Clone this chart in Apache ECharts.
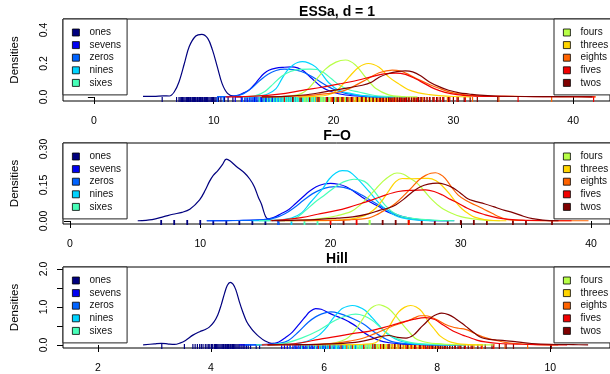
<!DOCTYPE html>
<html>
<head>
<meta charset="utf-8">
<script src="https://cdn.jsdelivr.net/npm/echarts@6/dist/echarts.min.js"></script>
<style>
  html, body { margin: 0; padding: 0; background: #fff; }
  #chart { width: 610px; height: 374px; }
</style>
</head>
<body>
<div id="chart"></div>
<script>
// Digit classes and their jet-style colours
const digitNames = ['ones', 'sevens', 'zeros', 'nines', 'sixes', 'fours', 'threes', 'eights', 'fives', 'twos'];
const digitColors = ['#00007F', '#0000F1', '#0063FF', '#00D4FF', '#47FFB8', '#B8FF47', '#FFD400', '#FF6300', '#F10000', '#7F0000'];
const panelTitles = ['ESSa, d = 1', 'F\u2212O', 'Hill'];

// Axis ticks and labels
const essaXTicks = [0, 10, 20, 30, 40];
const essaYTicks = [0, 0.1, 0.2, 0.3, 0.4];
const essaYLabels = [0, 0.2, 0.4];
const foXTicks = [0, 10, 20, 30, 40];
const foYTicks = [0, 0.05, 0.1, 0.15, 0.2, 0.25, 0.3];
const foYLabels = [0, 0.15, 0.3];
const hillXTicks = [2, 4, 6, 8, 10];
const hillYTicks = [0, 0.5, 1, 1.5, 2];
const hillYLabels = [0, 1, 2];

// ---- ESSa, d = 1 : kernel density estimates [value, density] ----
const essaOnes = [[4.1,0.004],[5.0,0.004],[5.8,0.007],[6.3,0.006],[6.7,0.03],[7.1,0.09],[7.55,0.2],[7.95,0.3],[8.5,0.364],[9.0,0.374],[9.5,0.35],[9.9,0.28],[10.3,0.18],[10.7,0.08],[11.15,0.022],[11.7,0.004],[12.3,0.001]];
const essaSevens = [[10.3,0.002],[11.5,0.004],[12.1,0.012],[12.6,0.028],[13.0,0.045],[13.4,0.075],[13.8,0.11],[14.2,0.14],[14.6,0.16],[15.2,0.172],[15.8,0.177],[16.5,0.18],[17.0,0.174],[17.5,0.155],[18.2,0.11],[19.0,0.06],[19.9,0.03],[21.0,0.012],[22.4,0.004],[24.0,0.001]];
const essaZeros = [[10.3,0.002],[11.8,0.006],[12.5,0.02],[13.2,0.055],[13.8,0.095],[14.5,0.135],[15.2,0.158],[15.9,0.166],[16.6,0.163],[17.3,0.152],[18.0,0.13],[18.7,0.1],[19.4,0.068],[20.2,0.04],[21.0,0.022],[22.2,0.008],[23.6,0.002],[25.0,0.001]];
const essaNines = [[12.5,0.001],[13.5,0.004],[14.5,0.018],[15.2,0.05],[15.7,0.11],[16.1,0.155],[16.6,0.19],[17.0,0.206],[17.4,0.211],[17.9,0.204],[18.5,0.18],[19.0,0.14],[19.6,0.085],[20.4,0.042],[21.5,0.02],[22.9,0.004],[24.5,0.001]];
const essaSixes = [[12.5,0.001],[13.5,0.008],[14.3,0.035],[15.0,0.08],[15.7,0.125],[16.4,0.152],[17.2,0.165],[18.0,0.167],[18.6,0.164],[19.2,0.145],[19.8,0.11],[20.6,0.065],[21.4,0.04],[22.1,0.03],[23.0,0.015],[23.8,0.006],[25.0,0.002],[26.0,0.001]];
const essaFours = [[15.0,0.001],[16.3,0.005],[17.3,0.02],[17.9,0.05],[18.5,0.1],[19.3,0.165],[20.2,0.208],[21.0,0.221],[21.8,0.193],[22.7,0.115],[23.5,0.052],[24.6,0.013],[25.7,0.003],[27.0,0.001]];
const essaThrees = [[17.0,0.001],[18.5,0.004],[19.5,0.012],[20.3,0.04],[21.3,0.12],[22.1,0.178],[22.9,0.2],[23.8,0.178],[24.6,0.12],[25.4,0.08],[26.2,0.045],[27.1,0.025],[28.0,0.014],[28.8,0.008],[30.0,0.003],[31.5,0.001]];
const essaEights = [[14.0,0.001],[16.0,0.004],[18.0,0.01],[19.5,0.02],[20.5,0.03],[21.3,0.05],[22.1,0.08],[22.9,0.11],[23.8,0.145],[24.9,0.161],[25.6,0.155],[26.4,0.13],[27.1,0.104],[28.0,0.075],[28.8,0.052],[29.9,0.026],[31.0,0.013],[32.4,0.006],[34.0,0.004],[36.0,0.003],[38.0,0.003],[40.0,0.002],[41.9,0.001]];
const essaFives = [[11.0,0.001],[13.0,0.004],[14.5,0.01],[16.0,0.022],[17.4,0.04],[19.0,0.058],[20.5,0.078],[22.0,0.1],[23.2,0.122],[24.2,0.138],[25.2,0.143],[26.0,0.135],[26.8,0.11],[27.6,0.08],[28.4,0.05],[29.3,0.028],[30.3,0.014],[31.5,0.007],[33.0,0.004],[35.5,0.003],[38.0,0.002],[40.0,0.002],[41.8,0.001]];
const essaTwos = [[14.0,0.001],[16.0,0.004],[17.5,0.012],[18.8,0.025],[20.0,0.04],[21.2,0.055],[22.4,0.07],[23.2,0.09],[23.8,0.118],[24.6,0.14],[25.3,0.152],[26.0,0.156],[26.6,0.15],[27.3,0.125],[28.0,0.09],[28.8,0.062],[29.6,0.04],[30.5,0.025],[31.3,0.018],[32.2,0.011],[33.5,0.006],[36.0,0.003],[39.0,0.002],[41.6,0.001]];

// ---- ESSa rug (observed values) ----
const essaOnesRug = [5.7,6.9,7.1,7.2,7.3,7.4,7.5,7.6,7.7,7.75,7.8,7.9,8.0,8.05,8.1,8.2,8.25,8.3,8.4,8.45,8.5,8.6,8.65,8.7,8.8,8.85,8.9,9.0,9.05,9.1,9.2,9.25,9.3,9.4,9.45,9.5,9.6,9.7,9.8,9.9,10.0,10.1,10.2,10.4,10.6,10.9,11.2,11.6];
const essaSevensRug = [11.8,12.3,12.6,12.8,13.0,13.2,13.4,13.6,13.8,14.0,14.15,14.3,14.45,14.6,14.75,14.9,15.05,15.2,15.35,15.5,15.65,15.8,15.95,16.1,16.25,16.4,16.55,16.7,16.85,17.0,17.15,17.3,17.5,17.7,17.9,18.1,18.35,18.6,18.9,19.2,19.6,20.1];
const essaZerosRug = [10.3,10.8,12.4,12.7,12.95,13.1,13.3,13.5,13.7,13.9,14.1,14.25,14.4,14.55,14.7,14.85,15.0,15.15,15.3,15.45,15.6,15.75,15.9,16.05,16.2,16.35,16.5,16.65,16.8,16.95,17.1,17.3,17.5,17.75,18.0,18.25,18.5,18.8,19.1,19.5,20.0,20.4,21.3];
const essaNinesRug = [14.7,15.1,15.3,15.45,15.6,15.75,15.9,16.05,16.2,16.35,16.5,16.6,16.75,16.9,17.0,17.1,17.2,17.3,17.4,17.5,17.6,17.7,17.8,17.9,18.0,18.15,18.3,18.45,18.6,18.75,18.9,19.1,19.3,19.55,19.8,20.1,20.5];
const essaSixesRug = [13.8,14.2,14.5,14.75,15.0,15.25,15.5,15.7,15.85,16.0,16.15,16.3,16.45,16.6,16.75,16.9,17.05,17.2,17.35,17.5,17.65,17.8,17.95,18.1,18.25,18.4,18.55,18.7,18.85,19.0,19.2,19.4,19.65,19.9,20.2,20.6,21.0,21.4,22.3];
const essaFoursRug = [17.6,17.8,18.1,18.4,18.6,18.8,18.95,19.1,19.25,19.4,19.55,19.7,19.85,20.0,20.15,20.3,20.45,20.6,20.75,20.9,21.05,21.2,21.35,21.5,21.65,21.8,21.95,22.1,22.3,22.5,22.7,22.9,23.15,23.4,23.7,24.0,24.6];
const essaThreesRug = [19.8,20.2,20.55,20.9,21.15,21.4,21.6,21.8,22.0,22.15,22.3,22.45,22.6,22.75,22.9,23.05,23.2,23.35,23.5,23.65,23.8,23.95,24.1,24.3,24.5,24.7,24.95,25.2,25.5,25.9,26.3,26.7,27.4];
const essaEightsRug = [18.6,19.8,20.7,21.4,21.9,22.3,22.7,23.0,23.3,23.55,23.8,24.0,24.2,24.4,24.6,24.75,24.9,25.05,25.2,25.35,25.5,25.7,25.9,26.1,26.3,26.55,26.8,27.1,27.4,27.8,28.3,28.9,29.5,30.4,31.6,33.8,38.2];
const essaFivesRug = [15.9,16.6,17.2,18.0,18.8,19.4,19.9,20.4,20.8,21.2,21.6,22.0,22.4,22.7,23.0,23.3,23.6,23.85,24.1,24.4,24.7,24.9,25.1,25.35,25.6,25.8,26.0,26.25,26.5,26.75,27.0,27.3,27.6,28.0,28.4,28.7,29.1,29.7,30.3,31.0,35.4,41.7];
const essaTwosRug = [16.6,17.3,18.0,18.7,19.5,20.0,20.3,20.7,21.1,21.5,22.0,22.35,22.7,23.0,23.3,23.6,23.9,24.15,24.4,24.6,24.8,25.05,25.3,25.5,25.7,25.9,26.1,26.3,26.5,26.7,26.9,27.1,27.3,27.55,27.8,28.05,28.3,28.6,28.9,29.2,29.6,30.0,30.4,30.9,31.4,32.0,33.7];

// ---- F-O : kernel density estimates ----
const foOnes = [[5.2,0.001],[6.3,0.006],[7.2,0.018],[7.9,0.028],[8.6,0.036],[9.2,0.049],[9.95,0.088],[10.4,0.13],[10.7,0.164],[11.0,0.19],[11.35,0.21],[11.7,0.235],[12.0,0.258],[12.3,0.25],[12.75,0.228],[13.4,0.2],[13.8,0.175],[14.15,0.143],[14.45,0.1],[14.7,0.07],[14.9,0.035],[15.1,0.012],[15.6,0.002],[16.5,0.001]];
const foSevens = [[10.5,0.001],[12.5,0.002],[14.2,0.004],[15.0,0.007],[15.6,0.014],[16.2,0.03],[16.8,0.048],[17.3,0.072],[17.85,0.099],[18.4,0.125],[18.9,0.143],[19.5,0.154],[20.0,0.157],[20.6,0.153],[21.2,0.143],[21.8,0.123],[22.4,0.1],[23.0,0.08],[23.7,0.06],[24.3,0.04],[25.0,0.025],[25.6,0.015],[26.3,0.008],[27.5,0.003],[29.0,0.001]];
const foZeros = [[10.5,0.001],[13.0,0.002],[15.0,0.006],[15.8,0.014],[16.5,0.03],[17.2,0.055],[17.9,0.085],[18.6,0.113],[19.3,0.132],[19.9,0.141],[20.4,0.143],[21.0,0.14],[21.7,0.128],[22.4,0.108],[23.1,0.085],[23.8,0.063],[24.5,0.042],[25.2,0.025],[25.9,0.014],[26.8,0.006],[28.0,0.002],[29.5,0.001]];
const foNines = [[14.0,0.001],[16.0,0.004],[17.0,0.012],[17.8,0.035],[18.4,0.074],[18.9,0.105],[19.4,0.135],[19.9,0.175],[20.4,0.2],[20.9,0.21],[21.3,0.209],[21.8,0.19],[22.4,0.157],[23.0,0.12],[23.5,0.088],[24.0,0.06],[24.5,0.039],[25.0,0.022],[25.5,0.013],[26.5,0.005],[28.0,0.001]];
const foSixes = [[14.5,0.001],[16.0,0.004],[17.3,0.012],[18.0,0.04],[18.8,0.078],[19.6,0.11],[20.3,0.14],[21.0,0.163],[21.8,0.174],[22.6,0.165],[23.2,0.135],[23.7,0.1],[24.2,0.065],[24.7,0.04],[25.3,0.022],[26.0,0.013],[27.0,0.007],[28.2,0.003],[29.5,0.001]];
const foFours = [[16.0,0.001],[18.0,0.004],[19.5,0.012],[20.5,0.022],[21.6,0.04],[22.3,0.068],[22.9,0.1],[23.5,0.135],[24.0,0.164],[24.6,0.19],[25.1,0.2],[25.6,0.195],[26.1,0.178],[26.6,0.16],[27.2,0.125],[27.8,0.088],[28.5,0.055],[29.3,0.032],[30.0,0.018],[30.8,0.01],[32.0,0.003],[33.0,0.001]];
const foThrees = [[18.0,0.001],[20.0,0.003],[21.5,0.008],[22.4,0.018],[22.9,0.03],[23.5,0.055],[24.0,0.088],[24.5,0.128],[25.0,0.164],[25.5,0.177],[26.2,0.176],[26.9,0.177],[27.5,0.178],[28.1,0.168],[28.6,0.145],[29.1,0.115],[29.6,0.08],[30.1,0.05],[30.6,0.03],[31.1,0.015],[31.8,0.006],[32.5,0.002],[33.5,0.001]];
const foEights = [[16.0,0.001],[19.0,0.002],[21.5,0.005],[22.9,0.012],[23.5,0.025],[24.0,0.04],[24.5,0.055],[25.0,0.074],[25.7,0.11],[26.3,0.143],[26.8,0.172],[27.3,0.19],[27.7,0.199],[28.05,0.201],[28.4,0.195],[28.8,0.178],[29.3,0.14],[29.8,0.108],[30.4,0.085],[31.1,0.067],[31.8,0.048],[32.4,0.032],[33.0,0.016],[33.6,0.006],[35.0,0.002],[37.0,0.001],[39.8,0.001]];
const foFives = [[15.4,0.001],[16.5,0.006],[17.85,0.015],[19.0,0.028],[20.4,0.043],[21.4,0.057],[22.4,0.074],[23.3,0.09],[24.2,0.108],[25.2,0.123],[26.2,0.128],[27.3,0.13],[28.0,0.122],[28.6,0.108],[29.2,0.09],[29.8,0.074],[30.5,0.053],[31.1,0.039],[31.8,0.027],[32.4,0.018],[33.2,0.01],[34.2,0.005],[36.0,0.002],[38.5,0.001]];
const foTwos = [[15.5,0.001],[17.0,0.003],[19.1,0.007],[20.5,0.012],[21.7,0.017],[22.9,0.03],[23.8,0.045],[24.5,0.055],[25.0,0.067],[25.6,0.09],[26.3,0.122],[26.9,0.143],[27.5,0.154],[28.2,0.158],[28.8,0.152],[29.4,0.138],[30.0,0.115],[30.5,0.094],[31.1,0.082],[31.8,0.072],[32.5,0.06],[33.2,0.047],[34.0,0.035],[34.8,0.02],[35.5,0.01],[36.3,0.004],[37.5,0.001]];

// ---- F-O rug (integer-valued scores) ----
const foOnesRug = [7, 8, 9, 10, 11, 12, 13, 14, 15];
const foSevensRug = [16];
const foZerosRug = [16];
const foNinesRug = [17];
const foSixesRug = [18, 19, 23];
const foFoursRug = [23];
const foThreesRug = [26];
const foEightsRug = [26];
const foFivesRug = [20, 22, 26];
const foTwosRug = [21, 24, 25, 27, 28, 29, 30, 31, 32, 34, 35, 37];

// ---- Hill : kernel density estimates ----
const hillOnes = [[2.8,0.005],[3.0,0.03],[3.12,0.045],[3.25,0.025],[3.35,0.015],[3.45,0.05],[3.55,0.12],[3.68,0.26],[3.8,0.35],[3.9,0.41],[3.97,0.47],[4.05,0.6],[4.12,0.79],[4.18,1.05],[4.24,1.36],[4.29,1.57],[4.34,1.65],[4.39,1.6],[4.44,1.45],[4.5,1.15],[4.56,0.88],[4.63,0.62],[4.71,0.44],[4.78,0.32],[4.85,0.22],[4.95,0.11],[5.03,0.06],[5.12,0.04],[5.25,0.03],[5.4,0.005]];
const hillSevens = [[4.5,0.005],[4.9,0.01],[5.1,0.04],[5.2,0.08],[5.32,0.2],[5.44,0.34],[5.56,0.55],[5.66,0.73],[5.75,0.88],[5.85,0.96],[5.95,0.94],[6.09,0.84],[6.2,0.77],[6.32,0.7],[6.44,0.61],[6.56,0.5],[6.67,0.36],[6.8,0.24],[6.97,0.12],[7.15,0.06],[7.35,0.03],[7.6,0.015],[8.0,0.005],[8.5,0.002]];
const hillZeros = [[4.6,0.004],[5.0,0.01],[5.2,0.04],[5.37,0.12],[5.55,0.35],[5.72,0.6],[5.85,0.74],[5.96,0.82],[6.05,0.86],[6.12,0.87],[6.25,0.84],[6.44,0.74],[6.6,0.63],[6.73,0.52],[6.85,0.38],[6.97,0.26],[7.1,0.15],[7.2,0.09],[7.35,0.05],[7.5,0.03],[7.8,0.01],[8.3,0.002]];
const hillNines = [[5.0,0.003],[5.4,0.02],[5.7,0.1],[5.91,0.26],[6.05,0.47],[6.15,0.69],[6.25,0.86],[6.32,0.96],[6.42,1.02],[6.5,1.04],[6.6,1.01],[6.73,0.91],[6.85,0.72],[6.97,0.52],[7.08,0.34],[7.2,0.21],[7.32,0.12],[7.44,0.07],[7.6,0.03],[7.9,0.01],[8.3,0.002]];
const hillSixes = [[4.8,0.003],[5.1,0.02],[5.32,0.05],[5.6,0.18],[5.91,0.39],[6.2,0.65],[6.4,0.77],[6.56,0.81],[6.7,0.77],[6.85,0.65],[6.97,0.5],[7.09,0.34],[7.22,0.21],[7.38,0.12],[7.52,0.07],[7.67,0.04],[8.0,0.015],[8.5,0.002]];
const hillFours = [[5.6,0.003],[6.0,0.02],[6.2,0.06],[6.38,0.15],[6.5,0.3],[6.61,0.52],[6.7,0.72],[6.79,0.91],[6.88,1.02],[6.97,1.06],[7.05,1.03],[7.14,0.96],[7.26,0.78],[7.38,0.56],[7.5,0.35],[7.61,0.18],[7.73,0.1],[7.85,0.06],[8.0,0.035],[8.14,0.02],[8.5,0.005],[9.0,0.001]];
const hillThrees = [[5.8,0.002],[6.4,0.01],[6.7,0.02],[6.91,0.06],[7.02,0.2],[7.14,0.45],[7.23,0.68],[7.32,0.87],[7.42,0.99],[7.53,1.04],[7.63,1.0],[7.73,0.88],[7.85,0.6],[7.96,0.4],[8.05,0.24],[8.2,0.1],[8.35,0.04],[8.5,0.015],[8.8,0.002]];
const hillEights = [[5.0,0.002],[5.6,0.01],[6.1,0.04],[6.4,0.09],[6.67,0.17],[6.9,0.3],[7.09,0.42],[7.25,0.52],[7.38,0.58],[7.5,0.65],[7.61,0.72],[7.7,0.77],[7.79,0.77],[7.9,0.73],[8.03,0.64],[8.15,0.54],[8.26,0.48],[8.38,0.44],[8.5,0.41],[8.62,0.34],[8.73,0.26],[8.88,0.18],[9.02,0.13],[9.2,0.07],[9.38,0.04],[9.7,0.015],[10.14,0.002]];
const hillFives = [[4.9,0.002],[5.32,0.02],[5.6,0.06],[5.91,0.15],[6.2,0.22],[6.5,0.3],[6.79,0.36],[6.97,0.43],[7.2,0.52],[7.38,0.6],[7.6,0.68],[7.79,0.72],[7.96,0.67],[8.1,0.53],[8.2,0.44],[8.32,0.34],[8.45,0.26],[8.55,0.21],[8.7,0.13],[8.85,0.08],[9.1,0.04],[9.5,0.02],[10.0,0.005],[10.3,0.001]];
const hillTwos = [[5.0,0.002],[5.5,0.01],[6.0,0.025],[6.5,0.06],[6.8,0.14],[7.0,0.22],[7.15,0.25],[7.3,0.2],[7.45,0.18],[7.58,0.26],[7.7,0.44],[7.82,0.62],[7.91,0.74],[8.0,0.81],[8.08,0.84],[8.2,0.8],[8.32,0.7],[8.44,0.57],[8.55,0.44],[8.67,0.3],[8.79,0.19],[8.92,0.15],[9.08,0.13],[9.23,0.11],[9.38,0.09],[9.52,0.06],[9.67,0.04],[10.0,0.02],[10.4,0.01],[10.67,0.002]];

// ---- Hill rug ----
const hillOnesRug = [3.13,3.53,3.68,3.72,3.76,3.80,3.83,3.86,3.90,3.93,3.96,3.98,4.01,4.03,4.06,4.08,4.10,4.12,4.14,4.16,4.18,4.20,4.22,4.23,4.25,4.26,4.28,4.29,4.31,4.32,4.34,4.35,4.37,4.38,4.40,4.42,4.44,4.46,4.48,4.50,4.53,4.55,4.58,4.60,4.63,4.66,4.70,4.80,4.86];
const hillSevensRug = [5.25,5.30,5.35,5.40,5.45,5.49,5.52,5.55,5.58,5.61,5.64,5.67,5.70,5.73,5.75,5.78,5.80,5.83,5.85,5.88,5.90,5.93,5.96,5.99,6.02,6.06,6.10,6.15,6.20,6.26,6.32,6.40,6.48,6.56,6.65];
const hillZerosRug = [5.40,5.48,5.55,5.62,5.68,5.73,5.78,5.83,5.88,5.92,5.97,6.01,6.05,6.09,6.12,6.16,6.19,6.23,6.26,6.30,6.34,6.38,6.42,6.47,6.52,6.57,6.63,6.70,6.78,6.86,6.95];
const hillNinesRug = [5.92,6.0,6.08,6.14,6.20,6.25,6.30,6.34,6.38,6.42,6.45,6.48,6.51,6.54,6.57,6.60,6.63,6.66,6.70,6.74,6.78,6.83,6.88,6.94,7.00,7.07,7.15];
const hillSixesRug = [5.60,5.72,5.85,5.95,6.05,6.14,6.22,6.29,6.36,6.42,6.48,6.53,6.58,6.63,6.68,6.74,6.80,6.86,6.93,7.00,7.08,7.16,7.25];
const hillFoursRug = [6.40,6.45,6.52,6.60,6.65,6.70,6.74,6.78,6.82,6.85,6.89,6.92,6.95,6.98,7.01,7.04,7.07,7.10,7.13,7.17,7.21,7.25,7.30,7.35,7.42,7.50];
const hillThreesRug = [6.95,7.03,7.10,7.16,7.22,7.27,7.32,7.36,7.40,7.44,7.47,7.50,7.53,7.56,7.59,7.62,7.66,7.70,7.74,7.79,7.84,7.90,7.98];
const hillEightsRug = [6.40,6.70,6.90,7.06,7.20,7.31,7.40,7.48,7.55,7.62,7.68,7.73,7.78,7.83,7.88,7.94,8.00,8.07,8.15,8.23,8.32,8.41,8.50,8.65,8.80,9.00,9.20,9.60];
const hillFivesRug = [5.90,6.10,6.30,6.50,6.70,6.86,7.00,7.13,7.25,7.35,7.45,7.54,7.62,7.69,7.76,7.83,7.90,7.97,8.05,8.13,8.22,8.31,8.40,8.50,8.60,8.78,9.00];
const hillTwosRug = [6.90,7.05,7.15,7.25,7.35,7.48,7.60,7.70,7.80,7.86,7.92,7.97,8.02,8.06,8.10,8.14,8.18,8.22,8.27,8.32,8.37,8.42,8.48,8.55,8.62,8.72,8.85,8.97,9.10,9.22,9.35,10.02];

const FONT = '"Liberation Sans", Arial, Helvetica, sans-serif';

// Panel layout: plot boxes stacked vertically, axis ranges padded like base R graphics
const panels = [
  {
    title: panelTitles[0], titleTop: 5, top: 19, height: 82,
    xMin: -2.578, xMax: 43.07, yMin: -0.0239, yMax: 0.4657, yDigits: 1, rugWidth: 1.2,
    xTicks: essaXTicks, yTicks: essaYTicks, yLabels: essaYLabels,
    curves: [essaOnes, essaSevens, essaZeros, essaNines, essaSixes, essaFours, essaThrees, essaEights, essaFives, essaTwos],
    rugs: [essaOnesRug, essaSevensRug, essaZerosRug, essaNinesRug, essaSixesRug, essaFoursRug, essaThreesRug, essaEightsRug, essaFivesRug, essaTwosRug]
  },
  {
    title: panelTitles[1], titleTop: 129, top: 143, height: 81,
    xMin: -0.535, xMax: 41.45, yMin: -0.0125, yMax: 0.325, yDigits: 2, rugWidth: 1.8,
    xTicks: foXTicks, yTicks: foYTicks, yLabels: foYLabels,
    curves: [foOnes, foSevens, foZeros, foNines, foSixes, foFours, foThrees, foEights, foFives, foTwos],
    rugs: [foOnesRug, foSevensRug, foZerosRug, foNinesRug, foSixesRug, foFoursRug, foThreesRug, foEightsRug, foFivesRug, foTwosRug]
  },
  {
    title: panelTitles[2], titleTop: 252, top: 267, height: 81,
    xMin: 1.383, xMax: 11.057, yMin: -0.079, yMax: 2.053, yDigits: 1, rugWidth: 1.2,
    xTicks: hillXTicks, yTicks: hillYTicks, yLabels: hillYLabels,
    curves: [hillOnes, hillSevens, hillZeros, hillNines, hillSixes, hillFours, hillThrees, hillEights, hillFives, hillTwos],
    rugs: [hillOnesRug, hillSevensRug, hillZerosRug, hillNinesRug, hillSixesRug, hillFoursRug, hillThreesRug, hillEightsRug, hillFivesRug, hillTwosRug]
  }
];

const legendCommon = {
  orient: 'vertical',
  icon: 'rect',
  itemWidth: 7,
  itemHeight: 7,
  itemGap: 0.6,
  padding: [7.5, 6, 6, 9],
  backgroundColor: '#fff',
  borderColor: '#222',
  borderWidth: 1,
  borderRadius: 0,
  selectedMode: false,
  itemStyle: { borderColor: '#000', borderWidth: 0.8 },
  textStyle: { fontFamily: FONT, fontSize: 10, color: '#111', lineHeight: 12, padding: [0, 0, 0, 5] }
};

const option = {
  animation: false,
  backgroundColor: '#fff',
  title: panels.map(p => ({
    text: p.title, left: 337, top: p.titleTop, textAlign: 'center', padding: 0,
    textStyle: { fontFamily: FONT, fontSize: 14, fontWeight: 'bold', color: '#000' }
  })),
  legend: panels.flatMap(p => [
    Object.assign({}, legendCommon, { left: 63, top: p.top, data: digitNames.slice(0, 5) }),
    Object.assign({}, legendCommon, { left: 554, top: p.top, data: digitNames.slice(5) })
  ]),
  grid: panels.map(p => ({
    left: 63, top: p.top, width: 549, height: p.height,
    show: true, borderColor: '#000', borderWidth: 1, backgroundColor: 'transparent',
    containLabel: false
  })),
  xAxis: panels.map((p, i) => ({
    type: 'value', gridIndex: i, min: p.xMin, max: p.xMax,
    axisLine: { show: false },
    splitLine: { show: false },
    axisTick: { show: true, length: 7, customValues: p.xTicks, lineStyle: { color: '#000', width: 1 } },
    axisLabel: {
      customValues: p.xTicks, margin: 15, fontFamily: FONT, fontSize: 10.5, color: '#000',
      formatter: v => String(Math.round(v))
    }
  })),
  yAxis: panels.map((p, i) => ({
    type: 'value', gridIndex: i, min: p.yMin, max: p.yMax,
    name: 'Densities', nameLocation: 'middle', nameGap: 42,
    nameTextStyle: { fontFamily: FONT, fontSize: 11.5, color: '#000' },
    axisLine: { show: false },
    splitLine: { show: false },
    axisTick: { show: true, length: 6, customValues: p.yTicks, lineStyle: { color: '#000', width: 1 } },
    axisLabel: {
      customValues: p.yLabels, rotate: 90, margin: 13, fontFamily: FONT, fontSize: 10.5, color: '#000',
      formatter: v => Number(v).toFixed(p.yDigits)
    }
  })),
  series: []
};

// Density curves, drawn in class order so later classes sit on top
panels.forEach((p, i) => {
  p.curves.forEach((curve, k) => {
    option.series.push({
      type: 'line', name: digitNames[k], xAxisIndex: i, yAxisIndex: i,
      data: curve, smooth: 0.35, showSymbol: false, symbol: 'none', silent: true,
      itemStyle: { color: digitColors[k] },
      lineStyle: { color: digitColors[k], width: 1.2 }
    });
  });
});

// Rug ticks along the bottom of each panel
panels.forEach((p, i) => {
  p.rugs.forEach((rug, k) => {
    option.series.push({
      type: 'scatter', xAxisIndex: i, yAxisIndex: i, silent: true,
      data: rug.map(v => [v, p.yMin]),
      symbol: 'rect', symbolSize: [p.rugWidth, 5], symbolOffset: [0, -1.5],
      itemStyle: { color: digitColors[k], opacity: 1 }
    });
  });
});

const chart = echarts.init(document.getElementById('chart'), null, { renderer: 'canvas' });
chart.setOption(option);
</script>
</body>
</html>
